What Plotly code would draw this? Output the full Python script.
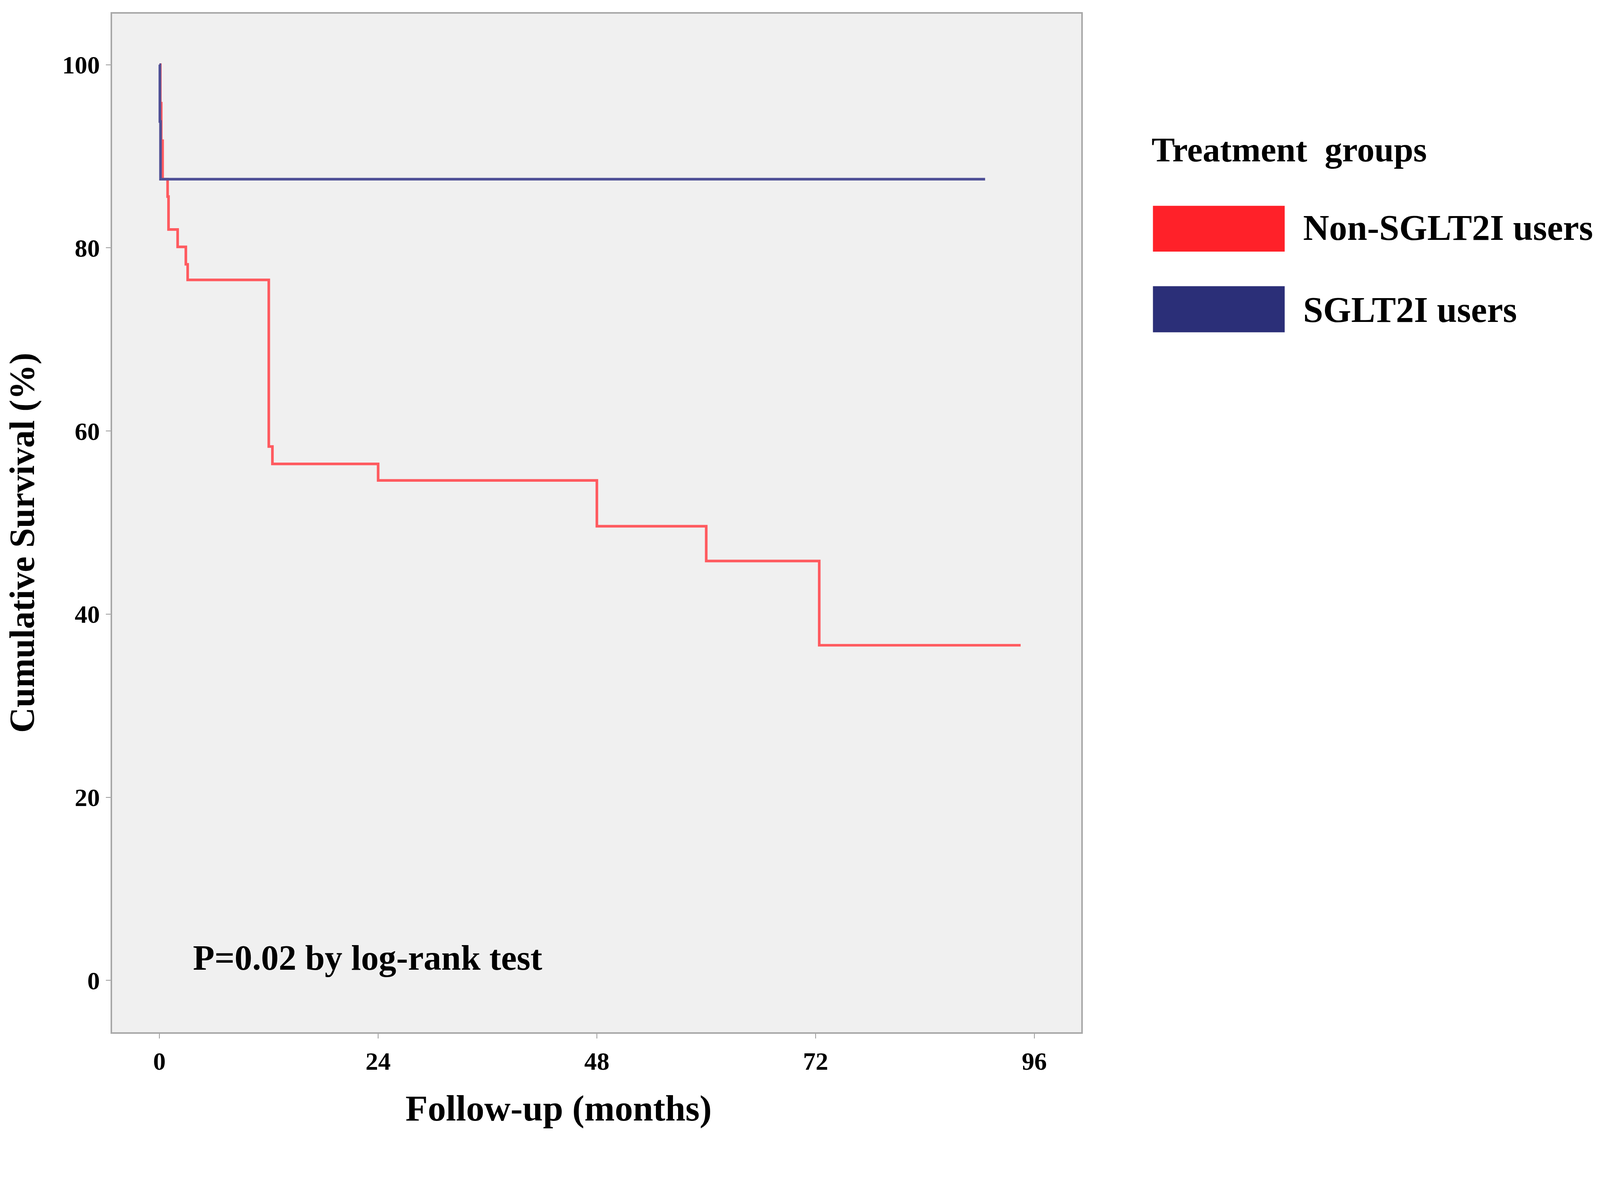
import plotly.graph_objects as go

# ---- data ----
series_names = ["Non-SGLT2I users", "SGLT2I users"]
legend_title = "Treatment  groups"

non_sglt2i_months = [0, 0.1, 0.2, 0.35, 0.9, 1.0, 2.0, 2.9, 3.1, 12.0, 12.4, 24.0, 48.0, 60.0, 72.4, 94.5]
non_sglt2i_surv = [100, 95.8, 91.7, 87.5, 85.6, 82.0, 80.1, 78.2, 76.5, 58.3, 56.4, 54.6, 49.6, 45.8, 36.6, 36.6]

sglt2i_months = [0, 0.05, 0.12, 90.6]
sglt2i_surv = [100, 93.8, 87.5, 87.5]

x_ticks = [0, 24, 48, 72, 96]
y_ticks = [0, 20, 40, 60, 80, 100]

p_text = "P=0.02 by log-rank test"
x_title = "Follow-up (months)"
y_title = "Cumulative Survival (%)"

# ---- layout geometry (target-pixel measurements, converted for page zoom/body margin) ----
S = 1 / 1.041          # observed page scale of the photograph
OFF = 8                # default body margin of the html page
FW = int(4259 * S) - 2 * OFF
FH = int(3033 * S) - 2 * OFF

def X(v):
    return v * S - OFF

def Y(v):
    return v * S - OFF

def sz(v):
    return v * S

PL, PR, PT, PB = X(299), X(2881), Y(36), Y(2750)

RED_LINE = "#FF5A5F"
BLUE_LINE = "#4F5096"
RED_SW = "#FF2129"
BLUE_SW = "#2B2F78"
FONT = "Liberation Serif"

def px(v):
    return (X(v) - PL) / (PR - PL)

def py(v):
    return (PB - Y(v)) / (PB - PT)

fig = go.Figure()
fig.add_trace(go.Scatter(x=non_sglt2i_months, y=non_sglt2i_surv, mode="lines",
                         line=dict(shape="hv", color=RED_LINE, width=sz(7)),
                         name=series_names[0], showlegend=False))
fig.add_trace(go.Scatter(x=sglt2i_months, y=sglt2i_surv, mode="lines",
                         line=dict(shape="hv", color=BLUE_LINE, width=sz(7)),
                         name=series_names[1], showlegend=False))

axis_common = dict(showgrid=False, zeroline=False, showline=True, mirror=True,
                   linecolor="#A8A8A8", linewidth=sz(4), ticks="outside", ticklen=sz(13),
                   tickwidth=sz(2), tickcolor="#9A9A9A",
                   tickfont=dict(family=FONT, size=sz(67), color="black", weight="bold"))

fig.update_xaxes(range=[-5.19, 101.15], tickvals=x_ticks, ticktext=[str(v) for v in x_ticks],
                 ticklabelstandoff=2, **axis_common)
fig.update_yaxes(range=[-5.66, 105.57], tickvals=y_ticks, ticktext=[str(v) for v in y_ticks],
                 ticklabelstandoff=2, **axis_common)

annotations = [
    dict(text=p_text, x=3.58, y=2.46, xref="x", yref="y", xanchor="left", yanchor="middle",
         showarrow=False, font=dict(family=FONT, size=sz(94), color="black", weight="bold")),
    dict(text=x_title, x=px(1489), y=py(2952), xref="paper", yref="paper",
         xanchor="center", yanchor="middle", showarrow=False,
         font=dict(family=FONT, size=sz(97), color="black", weight="bold")),
    dict(text=y_title, x=px(60), y=py(1446), xref="paper", yref="paper", textangle=-90,
         xanchor="center", yanchor="middle", showarrow=False,
         font=dict(family=FONT, size=sz(94), color="black", weight="bold")),
    dict(text=legend_title, x=px(3066), y=py(398), xref="paper", yref="paper",
         xanchor="left", yanchor="middle", showarrow=False,
         font=dict(family=FONT, size=sz(93), color="black", weight="bold")),
    dict(text=series_names[0], x=px(3470), y=py(607), xref="paper", yref="paper",
         xanchor="left", yanchor="middle", showarrow=False,
         font=dict(family=FONT, size=sz(96), color="black", weight="bold")),
    dict(text=series_names[1], x=px(3470), y=py(825), xref="paper", yref="paper",
         xanchor="left", yanchor="middle", showarrow=False,
         font=dict(family=FONT, size=sz(96), color="black", weight="bold")),
]

shapes = [
    dict(type="rect", xref="paper", yref="paper", x0=px(3072), x1=px(3423),
         y0=py(670), y1=py(548), fillcolor=RED_SW, line=dict(width=0)),
    dict(type="rect", xref="paper", yref="paper", x0=px(3072), x1=px(3423),
         y0=py(885), y1=py(762), fillcolor=BLUE_SW, line=dict(width=0)),
]

fig.update_layout(width=FW, height=FH, autosize=False,
                  margin=dict(l=PL, r=FW - PR, t=PT, b=FH - PB, pad=0),
                  paper_bgcolor="white", plot_bgcolor="#F0F0F0",
                  annotations=annotations, shapes=shapes, showlegend=False)

fig.write_html("out.html")
